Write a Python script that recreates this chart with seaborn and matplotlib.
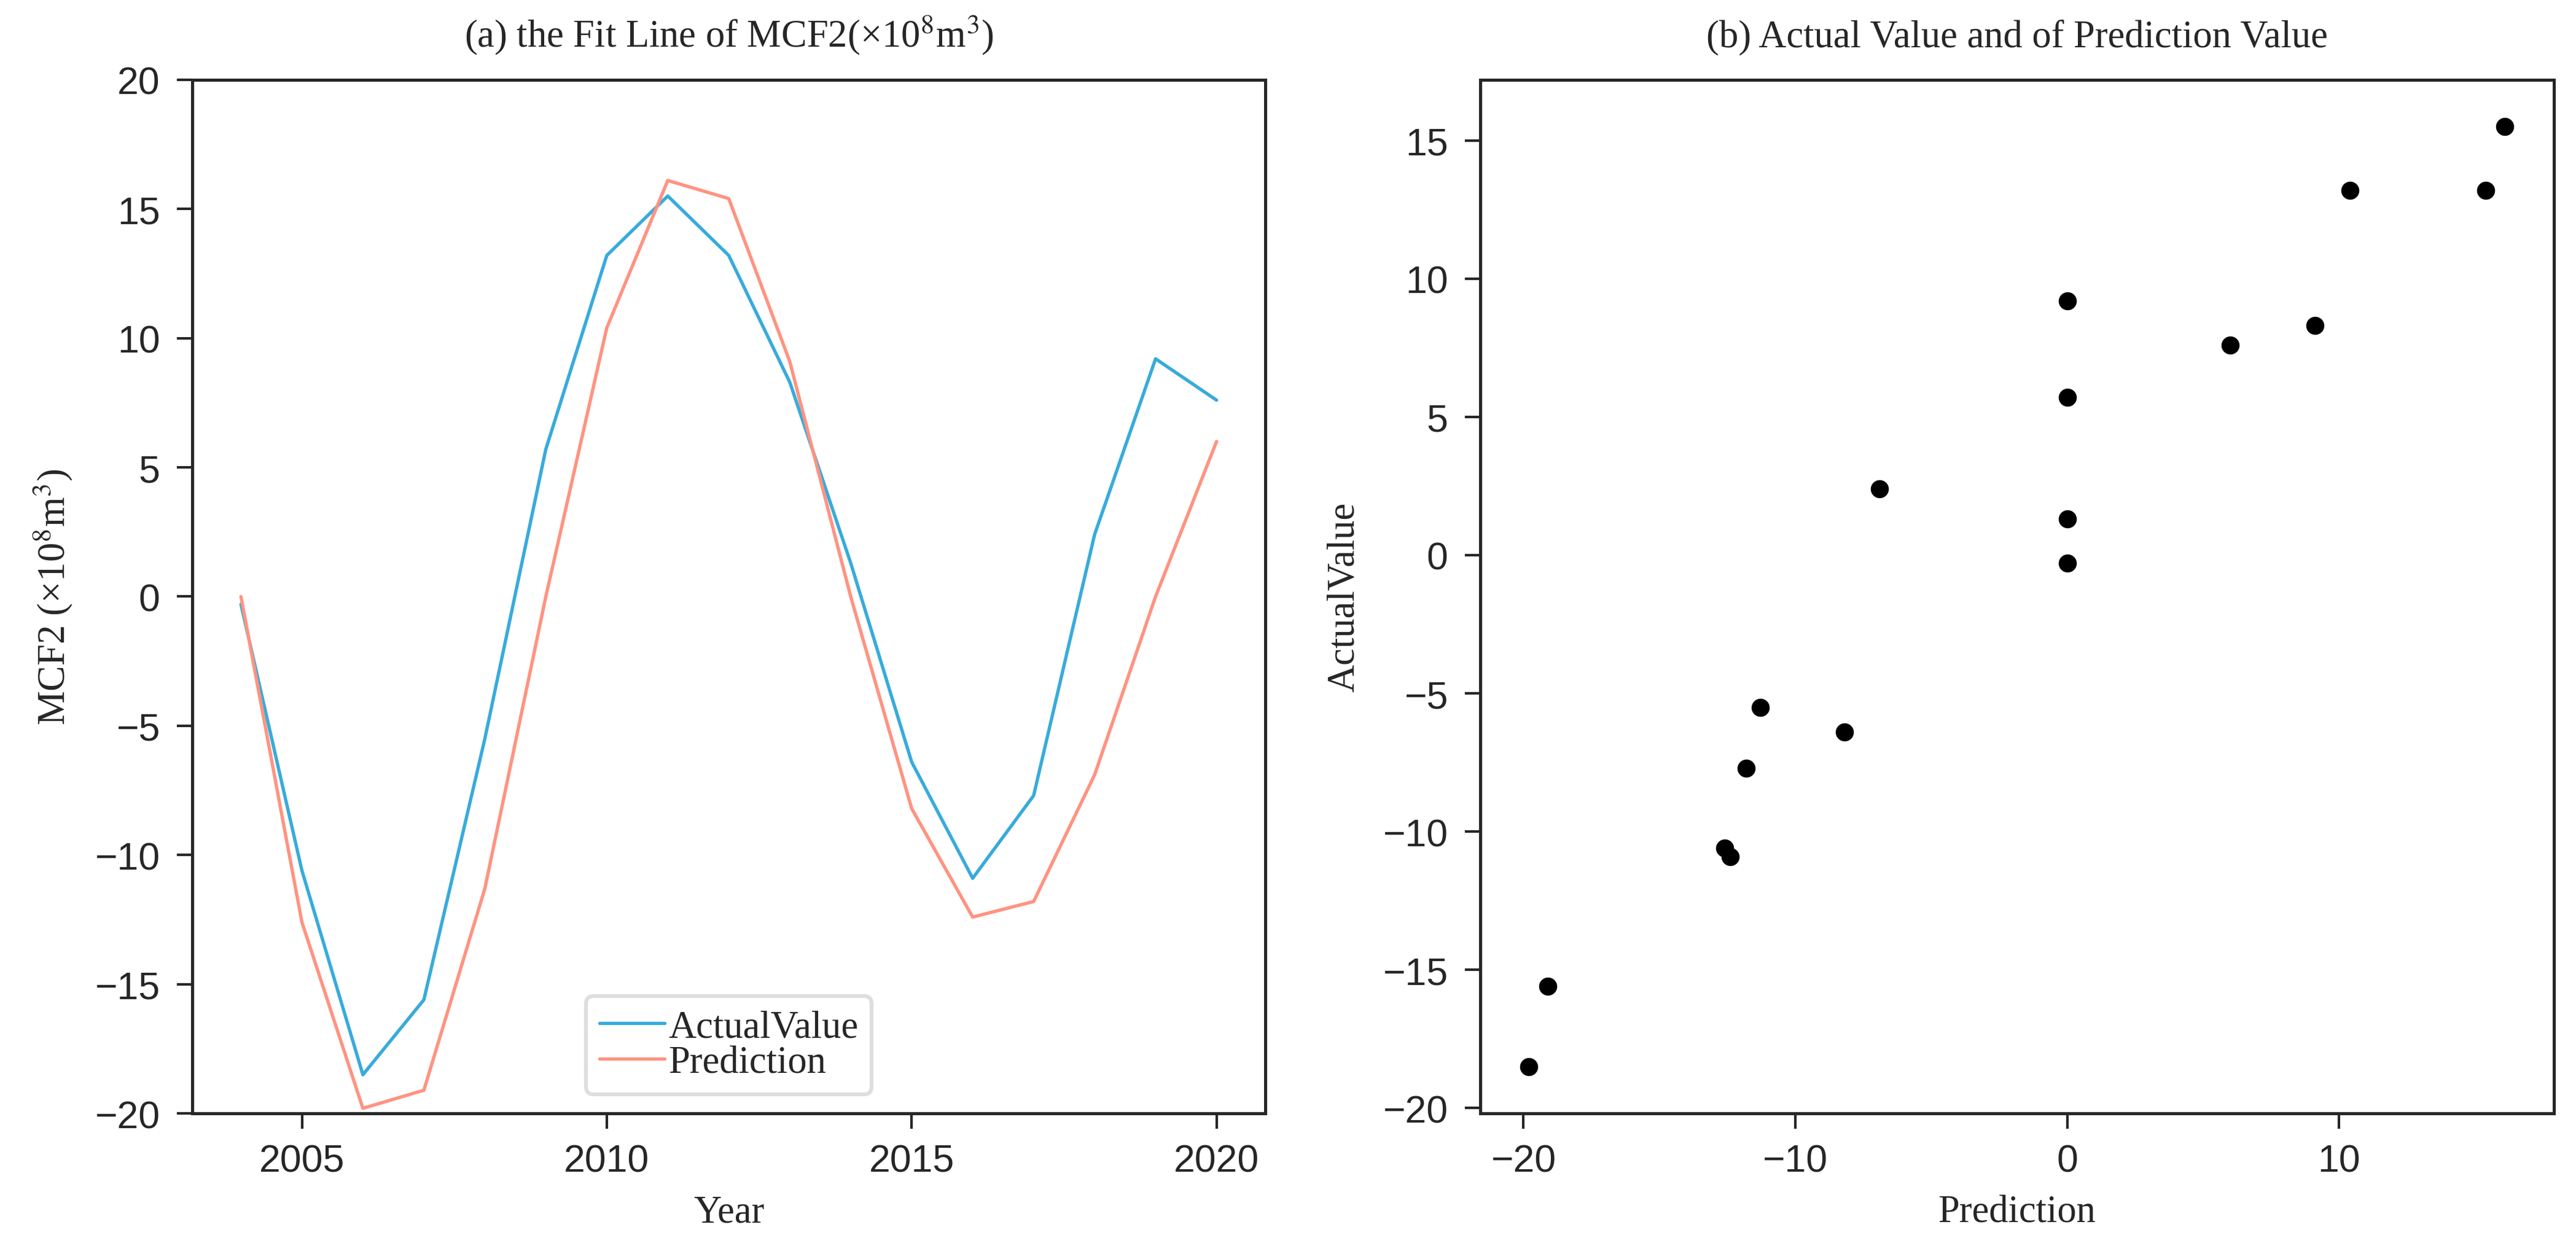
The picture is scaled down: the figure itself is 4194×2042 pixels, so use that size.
import numpy as np
import matplotlib
matplotlib.use("Agg")
import matplotlib.pyplot as plt
from matplotlib.ticker import MultipleLocator
import pandas as pd
import seaborn as sns

years = list(range(2004, 2021))
actual = [-0.3, -10.6, -18.5, -15.6, -5.5, 5.7, 13.2, 15.5, 13.2, 8.3, 1.3, -6.4, -10.9, -7.7, 2.4, 9.2, 7.6]
prediction = [0.0, -12.6, -19.8, -19.1, -11.3, 0.0, 10.4, 16.1, 15.4, 9.1, 0.0, -8.2, -12.4, -11.8, -6.9, 0.0, 6.0]

blue = '#38ABDB'
red = '#FF9381'
serif = 'Liberation Serif'

sns.set_style('ticks')
plt.rcParams['font.family'] = ['Liberation Sans', 'DejaVu Sans']
plt.rcParams['mathtext.fontset'] = 'stix'
plt.rcParams['axes.linewidth'] = 1.2
plt.rcParams['xtick.major.size'] = 6
plt.rcParams['ytick.major.size'] = 6
plt.rcParams['xtick.major.width'] = 1.0
plt.rcParams['ytick.major.width'] = 1.0
plt.rcParams['xtick.major.pad'] = 5.5
plt.rcParams['ytick.major.pad'] = 6.5
plt.rcParams['xtick.labelsize'] = 15
plt.rcParams['ytick.labelsize'] = 15

df = pd.DataFrame({'Year': years, 'ActualValue': actual, 'Prediction': prediction})

fig = plt.figure(figsize=(13.98, 6.81), dpi=300)
ax1 = fig.add_axes([0.0746, 0.112, 0.4166, 0.824])
ax2 = fig.add_axes([0.5746, 0.112, 0.4168, 0.824])

# (a) fit line
sns.lineplot(data=df, x='Year', y='ActualValue', color=blue, linewidth=1.3, label='ActualValue', ax=ax1)
sns.lineplot(data=df, x='Year', y='Prediction', color=red, linewidth=1.3, label='Prediction', ax=ax1)
ax1.set_ylim(-20, 20)
ax1.xaxis.set_major_locator(MultipleLocator(5))
ax1.yaxis.set_major_locator(MultipleLocator(5))
ax1.set_title('(a) the Fit Line of MCF2(×10$^8$m$^3$)', family=serif, fontsize=15, pad=13)
ax1.set_xlabel('Year', family=serif, fontsize=15, labelpad=6)
ax1.set_ylabel('MCF2 (×10$^8$m$^3$)', family=serif, fontsize=15, labelpad=8)
leg = ax1.legend(loc='lower center', prop={'family': serif, 'size': 15},
                 handlelength=1.7, handletextpad=0.1, labelspacing=0.0,
                 borderpad=0.35, frameon=True, fancybox=True)
leg.get_frame().set_edgecolor('#d6d6d6')
leg.get_frame().set_linewidth(1.5)

# (b) actual vs prediction
sns.scatterplot(data=df, x='Prediction', y='ActualValue', color='black', s=50, linewidth=0, ax=ax2)
ax2.xaxis.set_major_locator(MultipleLocator(10))
ax2.yaxis.set_major_locator(MultipleLocator(5))
ax2.set_title('(b) Actual Value and of Prediction Value', family=serif, fontsize=15, pad=13)
ax2.set_xlabel('Prediction', family=serif, fontsize=15, labelpad=6)
ax2.set_ylabel('ActualValue', family=serif, fontsize=15, labelpad=8)

fig.savefig('out.png', dpi=300)
